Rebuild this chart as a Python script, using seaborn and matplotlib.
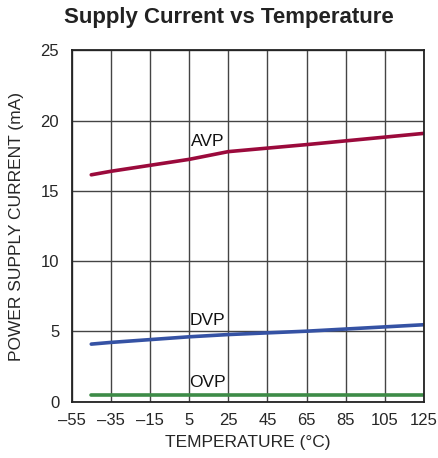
import pandas as pd
import matplotlib.pyplot as plt
import seaborn as sns

# data
temps = [-45, -35, 5, 25, 65, 125]
avp = [16.15, 16.4, 17.25, 17.8, 18.3, 19.1]
dvp = [4.1, 4.22, 4.62, 4.78, 5.02, 5.48]
ovp = [0.5, 0.5, 0.5, 0.5, 0.5, 0.5]
series_names = ['AVP', 'DVP', 'OVP']
xticks = list(range(-55, 126, 20))
yticks = [0, 5, 10, 15, 20, 25]

df = pd.DataFrame({
    'temp': temps * 3,
    'current': avp + dvp + ovp,
    'rail': [n for n in series_names for _ in temps],
})

sns.set_theme(style="white")
plt.rcParams['font.family'] = ['Liberation Sans', 'DejaVu Sans']

fig = plt.figure(figsize=(4.38, 4.58), dpi=100)
ax = fig.add_axes([0.1637, 0.1229, 0.8043, 0.7669])

colors = {'AVP': '#9b0a3c', 'DVP': '#3552a4', 'OVP': '#3d8b47'}
sns.lineplot(data=df, x='temp', y='current', hue='rail', palette=colors,
             linewidth=2.6, legend=False, ax=ax)

ax.set_xlim(-55, 125)
ax.set_ylim(0, 25)
ax.set_xticks(xticks)
ax.set_yticks(yticks)
ax.set_xticklabels([str(t).replace('-', '\u2013') for t in xticks], fontsize=12)
ax.set_yticklabels([str(t) for t in yticks], fontsize=12)
ax.grid(True, color='#444444', linewidth=1.0)
ax.set_axisbelow(True)
for s in ax.spines.values():
    s.set_color('#222222')
    s.set_linewidth(1.3)
ax.tick_params(axis='x', length=0, pad=8)
ax.tick_params(axis='y', length=0, pad=9)

ax.set_xlabel('TEMPERATURE (°C)', fontsize=12.5, labelpad=5)
ax.set_ylabel('POWER SUPPLY CURRENT (mA)', fontsize=12.5, labelpad=12)

# line labels
for name, y in zip(series_names, [18.55, 5.8, 1.35]):
    ax.text(14.5, y, name, fontsize=12.5, ha='center', va='center', color='#111111')

fig.suptitle('Supply Current vs Temperature', x=0.523, y=0.985, fontsize=16,
             fontweight='bold', color='#222222')

fig.savefig('out.png', dpi=100)
